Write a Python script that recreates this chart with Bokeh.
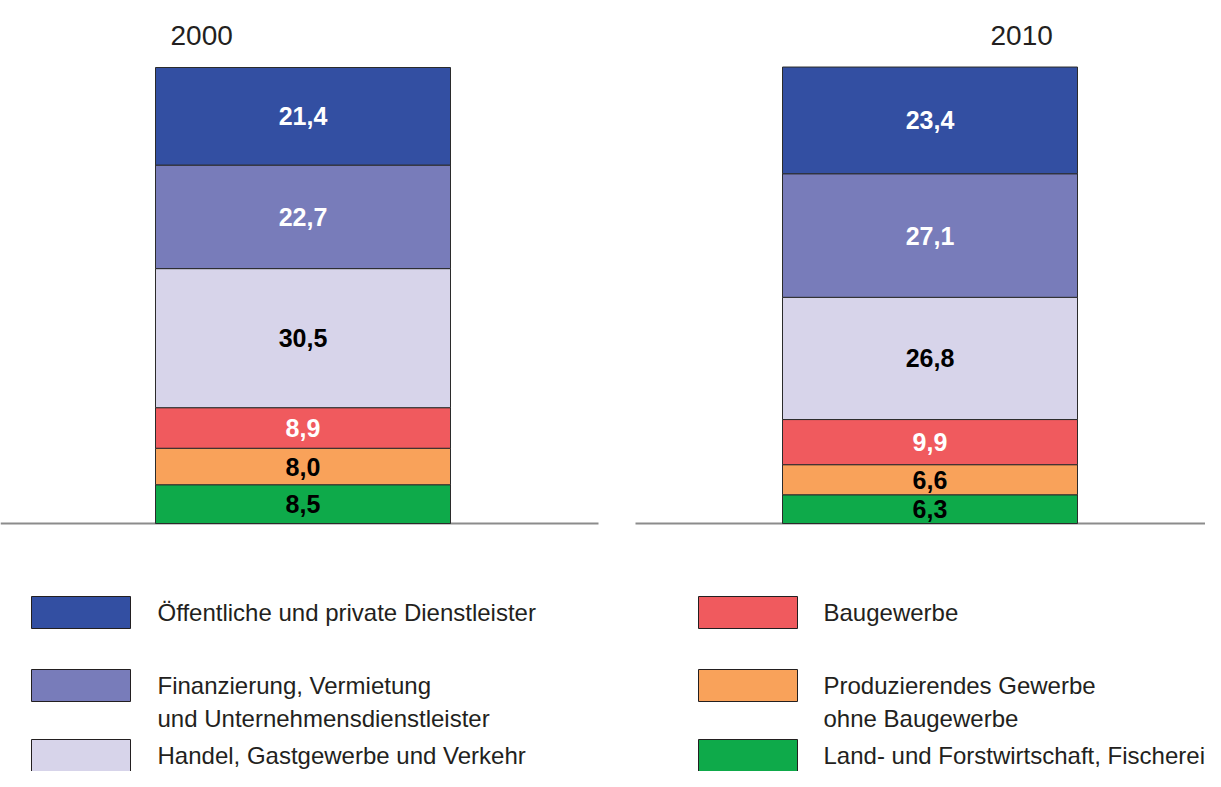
import numpy as np
from bokeh.plotting import figure
from bokeh.models import Range1d, ColumnDataSource
from bokeh.core.properties import value
from bokeh.embed import file_html
from bokeh.resources import INLINE

# ---------------- data ----------------
years = ["2000", "2010"]
sectors = [
    "Land- und Forstwirtschaft, Fischerei",
    "Produzierendes Gewerbe\nohne Baugewerbe",
    "Baugewerbe",
    "Handel, Gastgewerbe und Verkehr",
    "Finanzierung, Vermietung\nund Unternehmensdienstleister",
    "Öffentliche und private Dienstleister",
]
values_2000 = [8.5, 8.0, 8.9, 30.5, 22.7, 21.4]
values_2010 = [6.3, 6.6, 9.9, 26.8, 27.1, 23.4]

# ---------------- styles / layout ----------------
colors = ["#0eaa4a", "#f9a25a", "#f05a5e", "#d7d4ea", "#787cba", "#334fa2"]
label_colors = ["#000000", "#000000", "#ffffff", "#000000", "#ffffff", "#ffffff"]
FONT = "Liberation Sans"

W, H = 1205, 771
BASE_PX = 523.0      # picture pixel row of value 0
PX_PER_UNIT = 4.56   # pixels per percentage point


def ry(py):
    """picture pixel row -> value units"""
    return (BASE_PX - py) / PX_PER_UNIT


bar_x = [302.5, 929.5]
bar_w = 295
title_x = [170, 990]

p = figure(width=W, height=H, output_backend="svg", toolbar_location=None,
           x_range=Range1d(0, W), y_range=Range1d(ry(H), ry(0)),
           x_axis_type=None, y_axis_type=None, min_border=0,
           background_fill_color="white", border_fill_color="white")
p.grid.visible = False
p.outline_line_color = None

# baselines
p.segment(x0=[0, 635], x1=[598, W], y0=[0, 0], y1=[0, 0],
          line_color="#8c8c8c", line_width=2)

# stacked bars
keys = [f"s{i}" for i in range(len(sectors))]
data = {"x": bar_x}
for i, k in enumerate(keys):
    data[k] = [values_2000[i], values_2010[i]]
src = ColumnDataSource(data)
p.vbar_stack(keys, x="x", width=bar_w, source=src, color=colors,
             line_color="#2b2b2b", line_width=1)

# value labels
for xi, vals in zip(bar_x, [values_2000, values_2010]):
    v = np.array(vals)
    tops = np.cumsum(v)
    mids = tops - v / 2
    p.text(x=[xi] * len(v), y=list(mids),
           text=[f"{a:.1f}".replace(".", ",") for a in v],
           text_color=label_colors, text_font=value(FONT),
           text_font_size="25px", text_font_style="bold",
           text_align="center", text_baseline="middle")

# year titles
p.text(x=title_x, y=[ry(34.5)] * 2, text=years, text_font=value(FONT),
       text_font_size="28px", text_color="#231f20",
       text_align="left", text_baseline="alphabetic")

# legend (manual, two columns)
order = [5, 4, 3, 2, 1, 0]
box_left = [31, 31, 31, 698, 698, 698]
row_top = [596, 669, 739, 596, 669, 739]
text_left = [157, 157, 157, 823, 823, 823]
BOX_W, BOX_H, LINE_GAP = 99, 32, 33

for j, idx in enumerate(order):
    l, t = box_left[j], row_top[j]
    p.quad(left=[l], right=[l + BOX_W], top=[ry(t)], bottom=[ry(t + BOX_H)],
           fill_color=colors[idx], line_color="#231f20", line_width=1)
    lines = sectors[idx].split("\n")
    cy = t + BOX_H / 2
    p.text(x=[text_left[j]] * len(lines),
           y=[ry(cy + k * LINE_GAP) for k in range(len(lines))],
           text=lines, text_font=value(FONT), text_font_size="24px",
           text_color="#231f20", text_align="left", text_baseline="middle")

open("out.html", "w").write(file_html(p, INLINE))
